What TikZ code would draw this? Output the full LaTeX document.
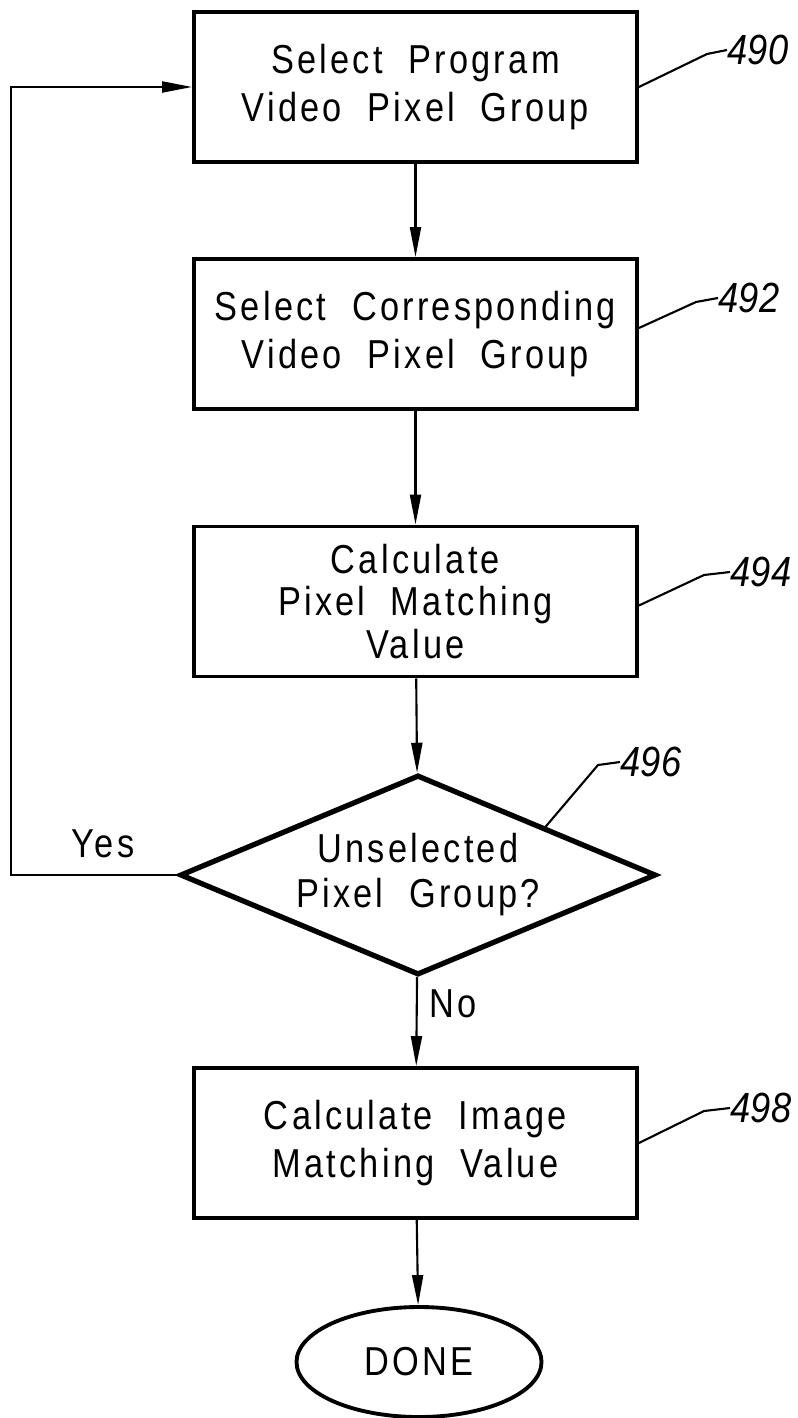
\documentclass[tikz,border=0pt]{standalone}
\usepackage{fontspec}
\newfontfamily\flowfont{Liberation Sans}[FakeStretch=0.85,LetterSpace=8,WordSpace=2]
\newfontfamily\reffont{Liberation Sans}[FakeStretch=0.86]
\usepackage{tikz}
\usetikzlibrary{shapes.geometric,arrows.meta,calc}
\newcommand{\flowarrow}{-{Triangle[length=3mm,width=1.1mm]}}
\newcommand{\flowtext}{\flowfont\fontsize{11.5}{13.5}\selectfont}

\begin{document}
\begin{tikzpicture}[
    stepbox/.style={draw, line width=1.1pt, minimum width=4.43cm, minimum height=1.5cm, align=center, inner sep=0pt, font=\flowtext},
    testbox/.style={draw, diamond, line width=1.5pt, shape aspect=2.38, minimum width=4.76cm, minimum height=2cm, align=center, inner sep=0pt, font=\flowtext},
    endbox/.style={draw, ellipse, line width=1.1pt, minimum width=2.45cm, minimum height=1.1cm, inner sep=0pt, font=\flowtext},
    link/.style={line width=0.6pt},
    refnum/.style={font=\reffont\itshape\fontsize{12}{14}\selectfont, anchor=west, inner sep=0pt},
    answer/.style={font=\flowtext, inner sep=0pt}
  ]
  \useasboundingbox (0,0) rectangle (7.98,-14.18);

  \node[stepbox] (select) at (4.155,-0.87) {Select Program\\Video Pixel Group};
  \node[stepbox] (corresp) at (4.155,-3.34) {Select Corresponding\\Video Pixel Group};
  \node[stepbox, font=\flowfont\fontsize{11.5}{12}\selectfont] (pixval) at (4.155,-6.015) {Calculate\\Pixel Matching\\Value};
  \node[testbox, font=\flowfont\fontsize{11.5}{12.8}\selectfont] (unsel) at (4.18,-8.75) {Unselected\\Pixel Group?};
  \node[stepbox] (imgval) at (4.155,-11.43) {Calculate Image\\Matching Value};
  \node[endbox] (done) at (4.19,-13.62) {DONE};

  % main flow
  \draw[link,\flowarrow] (select) -- (corresp);
  \draw[link,\flowarrow] (corresp) -- (pixval);
  \draw[link,\flowarrow] (pixval) -- (unsel);
  \draw[link,\flowarrow] (unsel) -- node[answer, right=0.12cm, pos=0.3] (no) {No} (imgval);
  \draw[link,\flowarrow] (imgval) -- (done);

  % loop back
  \coordinate (turn) at (0.11,-8.75);
  \draw[link,\flowarrow] (unsel.west) -- (turn) |- (select.west);
  \node[answer] (yes) at (1.03,-8.44) {Yes};

  % reference numerals
  \node[refnum] (n490) at (7.27,-0.5) {490};
  \draw[link] (select.east) -- (7.07,-0.54) -- (n490.west);
  \node[refnum] (n492) at (7.18,-2.98) {492};
  \draw[link] ($(corresp.east)+(0,0.06)$) -- (6.96,-3.02) -- (n492.west);
  \node[refnum] (n494) at (7.3,-5.72) {494};
  \draw[link] ($(pixval.east)+(0,-0.04)$) -- (7.04,-5.75) -- (n494.west);
  \node[refnum] (n496) at (6.2,-7.62) {496};
  \draw[link] ($(unsel.north)!0.53!(unsel.east)$) -- (5.98,-7.65) -- (n496.west);
  \node[refnum] (n498) at (7.3,-11.08) {498};
  \draw[link] (imgval.east) -- (7.04,-11.11) -- (n498.west);
\end{tikzpicture}
\end{document}
